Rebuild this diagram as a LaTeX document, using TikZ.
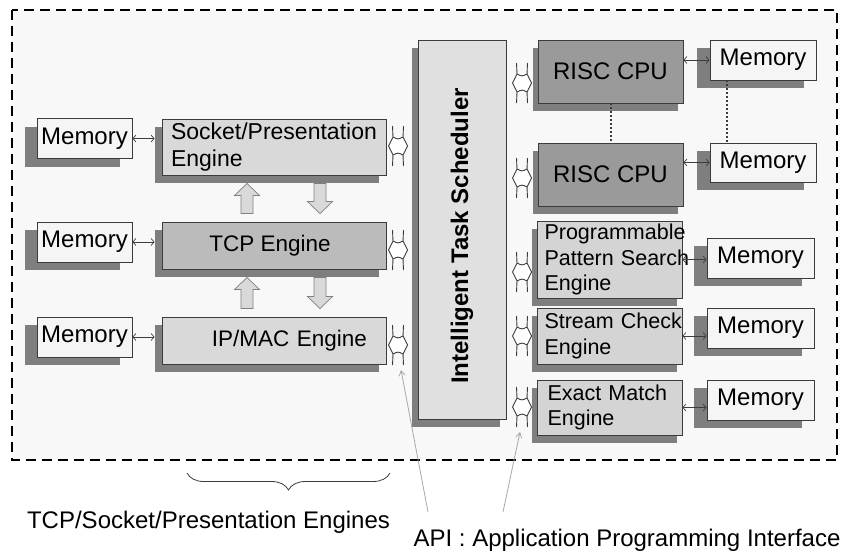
\documentclass[tikz,border=0pt]{standalone}
\usepackage{fontspec}
\setmainfont{Liberation Sans}
\usetikzlibrary{arrows.meta,calc,shadows,decorations.pathreplacing}

\definecolor{bordergray}{HTML}{3C3C3C}
\definecolor{shadowgray}{HTML}{7F7F7F}
\definecolor{panel}{HTML}{F8F8F8}
\definecolor{memfill}{HTML}{F5F5F5}
\definecolor{lightengine}{HTML}{D9D9D9}
\definecolor{midengine}{HTML}{BBBBBB}
\definecolor{cpufill}{HTML}{9A9A9A}
\definecolor{schedfill}{HTML}{E0E0E0}
\definecolor{scanfill}{HTML}{D4D4D4}
\definecolor{apigray}{HTML}{A8A8A8}

% port symbol between an engine and the scheduler
\newcommand\apiport[1]{%
  \begin{scope}[shift={(#1)}]
    \filldraw[port] (-5,-9) .. controls (0,-6.5) .. (5,-9) -- (9.5,0) -- (5,9)
      .. controls (0,6.5) .. (-5,9) -- (-9.5,0) -- cycle;
    \draw[port] (-5,-9) -- (-5.5,-20) (5,-9) -- (5.5,-20)
      (-5,9) -- (-5.5,20) (5,9) -- (5.5,20);
  \end{scope}}

% hollow block arrow from tail #1 to tip #2 (vertical)
\newcommand\blockarr[2]{%
  \filldraw[blockarrow] let \p1=(#1), \p2=(#2), \n1={sign(\y2-\y1)} in
    ({\x1-6pt},\y1) -- ({\x1-6pt},{\y2-(\n1)*12pt}) -- ({\x1-12.5pt},{\y2-(\n1)*12pt})
    -- (\x2,\y2) -- ({\x1+12.5pt},{\y2-(\n1)*12pt}) -- ({\x1+6pt},{\y2-(\n1)*12pt})
    -- ({\x1+6pt},\y1) -- cycle;}

\begin{document}
\begin{tikzpicture}[x=1pt,y=-1pt,
  box/.style={draw=bordergray, line width=0.9pt, inner sep=0pt, text=black},
  shd/.style={drop shadow={shadow xshift=#1, shadow yshift=-8pt,
      fill=shadowgray, opacity=1}},
  memory/.style={box, shd=-12pt, fill=memfill, minimum width=95, minimum height=40,
      font=\fontsize{24}{28}\selectfont},
  rmemory/.style={memory, shd=-13pt, minimum width=106},
  engine/.style={box, shd=-7pt, minimum width=224, minimum height=47,
      font=\fontsize{22.5}{27}\selectfont},
  scan/.style={box, shd=-5pt, fill=scanfill, minimum width=145,
      align=left, text width=130, font=\fontsize{21.5}{25.5}\selectfont,
      execute at begin node={\hyphenpenalty=10000\exhyphenpenalty=10000}},
  cpu/.style={box, shd=-5pt, fill=cpufill, minimum width=145, minimum height=63,
      font=\fontsize{24}{28}\selectfont},
  memarr/.style={{Straight Barb[length=3pt,width=7pt]}-{Straight Barb[length=3pt,width=7pt]},
      line width=0.7pt, draw=bordergray},
  port/.style={draw=bordergray, line width=0.9pt, fill=white},
  blockarrow/.style={draw=gray, line width=0.7pt, fill=lightengine},
  linkdots/.style={draw=bordergray, line width=2pt, dash pattern=on 2pt off 2pt},
  apiline/.style={draw=apigray, line width=0.8pt,
      -{Straight Barb[length=5pt,width=6pt]}},
  caption/.style={font=\fontsize{24}{28}\selectfont}]

% page and dashed system boundary
\fill[white] (0,0) rectangle (842,551);
\useasboundingbox (0,0) rectangle (842,551);
\filldraw[fill=panel, draw=black, line width=2.4pt, dash pattern=on 10pt off 6pt]
  (12,10) rectangle (837,460);

% network engines and their memories
\node[memory] (mem1) at (84.5,138.5) {Memory};
\node[memory] (mem2) at (84.5,242) {Memory};
\node[memory] (mem3) at (84.5,337) {Memory};

\node[engine, fill=lightengine, minimum height=56, align=left, text width=206,
  font=\fontsize{23}{27}\selectfont] (sock) at (274,147) {Socket/Presentation\\Engine};
\node[engine, fill=midengine] (tcp) at (274,245.5) {\hspace*{-8pt}TCP Engine};
\node[engine, fill=lightengine, align=right, text width=186] (ip) at (274,340.5) {IP/MAC Engine};

\draw[memarr] (mem1.east) -- ($(sock.west |- mem1.east)+(-7,0)$);
\draw[memarr] (mem2.east) -- ($(tcp.west |- mem2.east)+(-7,0)$);
\draw[memarr] (mem3.east) -- ($(ip.west |- mem3.east)+(-7,0)$);

% data flow between the protocol layers
\blockarr{$(tcp.north)+(-27,-8)$}{$(sock.south)+(-27,8)$}
\blockarr{$(sock.south)+(46,8)$}{$(tcp.north)+(46,-8)$}
\blockarr{$(ip.north)+(-27,-8)$}{$(tcp.south)+(-27,8)$}
\blockarr{$(tcp.south)+(46,8)$}{$(ip.north)+(46,-8)$}

% scheduler
\node[box, shd=-6pt, fill=schedfill, minimum width=88, minimum height=379] (sched) at (462,229.5) {};
\node[rotate=90, font=\bfseries\fontsize{24}{28}\selectfont] (schedtext)
  at ($(sched.center)+(0,6.5)$) {Intelligent Task Scheduler};

% processors and content engines
\node[cpu] (cpu1) at (610.5,71.5) {RISC CPU};
\node[cpu] (cpu2) at (610.5,174.5) {RISC CPU};
\node[rmemory] (rmem1) at (763,60) {Memory};
\node[rmemory, minimum height=39] (rmem2) at (763,162.5) {Memory};

\node[scan, minimum height=77] (prog) at (609.5,259.5) {Programmable\\Pattern~Search\\Engine};
\node[scan, minimum height=56] (strm) at (609.5,336) {Stream~Check\\Engine};
\node[scan, minimum height=55] (exact) at (609.5,407.5) {\hspace*{3pt}Exact~Match\\\hspace*{3pt}Engine};

\node[rmemory, minimum width=107] (rmem3) at (760.5,258) {Memory};
\node[rmemory, minimum width=107] (rmem4) at (760.5,328) {Memory};
\node[rmemory, minimum width=107] (rmem5) at (760.5,400) {Memory};

\draw[linkdots] (cpu1.south) -- (cpu2.north);
\draw[linkdots] ($(rmem1.south west)+(17,0)$) -- ($(rmem2.north west)+(17,0)$);

\draw[memarr] (cpu1.east |- rmem1.west) -- (rmem1.west);
\draw[memarr] (cpu2.east |- rmem2.west) -- (rmem2.west);
\draw[memarr] (prog.east) -- (rmem3.west |- prog.east);
\draw[memarr] (strm.east) -- (rmem4.west |- strm.east);
\draw[memarr] (exact.east) -- (rmem5.west |- exact.east);

% API ports
\coordinate (pS) at (398,146);
\coordinate (pT) at (398,250);
\coordinate (pI) at (398,345);
\coordinate (pC1) at (522,83);
\coordinate (pC2) at (522,178);
\coordinate (pP) at (522,272);
\coordinate (pSt) at (522,336);
\coordinate (pE) at (522,407);
\foreach \p in {pS,pT,pI,pC1,pC2,pP,pSt,pE} {\apiport{\p}}

% captions
\coordinate (braceL) at (187,473);
\coordinate (braceR) at (390,473);
\draw[draw=bordergray, line width=0.8pt,
  decorate, decoration={brace, mirror, amplitude=17pt}] (braceL) -- (braceR);
\node[caption] (engcap) at (208.5,522) {TCP/Socket/Presentation Engines};
\node[caption] (apicap) at (627,540) {API : Application Programming Interface};

\coordinate (l1) at (428,512);
\coordinate (l2) at (503,512);
\draw[apiline] (l1) -- ($(pI)+(3,25)$);
\draw[apiline] (l2) -- ($(pE)+(-2,25)$);
\end{tikzpicture}
\end{document}
